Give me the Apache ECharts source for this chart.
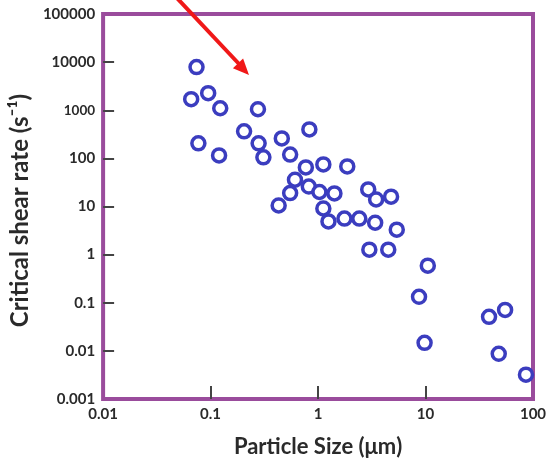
<!DOCTYPE html>
<html>
<head>
<meta charset="utf-8">
<script src="https://cdn.jsdelivr.net/npm/echarts@6/dist/echarts.min.js"></script>
<style>
  html, body { margin: 0; padding: 0; background: #ffffff; }
  #chart { width: 551px; height: 466px; }
</style>
</head>
<body>
<div id="chart"></div>
<script>
// Particle size (µm) and critical shear rate (s^-1)
const particleSize = [
  0.074, 0.066, 0.095, 0.123, 0.276, 0.205, 0.077, 0.12, 0.28, 0.31,
  0.46, 0.83, 0.55, 0.77, 1.12, 1.87, 0.61, 0.55, 0.43, 0.82,
  1.03, 1.42, 1.12, 1.25, 1.76, 2.42, 2.93, 3.47, 4.78, 3.4,
  5.4, 3.0, 4.5, 10.5, 8.7, 9.8, 39, 55, 48, 86
];
const shearRate = [
  7900, 1700, 2260, 1100, 1050, 365, 205, 115, 205, 105,
  260, 400, 120, 65, 75, 68, 36, 19, 10.5, 26,
  20, 18.7, 9.1, 4.9, 5.6, 5.6, 22.6, 14, 16, 4.6,
  3.3, 1.27, 1.27, 0.59, 0.133, 0.0147, 0.051, 0.071, 0.0087, 0.0032
];
const xTickLabels = ['0.01', '0.1', '1', '10', '100'];
const yTickLabels = ['0.001', '0.01', '0.1', '1', '10', '100', '1000', '10000', '100000'];
const xTickValues = [0.1, 1, 10];
const yTickValues = [0.01, 0.1, 1, 10, 100, 1000, 10000];

const points = particleSize.map((x, i) => [x, shearRate[i]]);

const frameColor = '#9a4c9c';
const textColor = '#2a2a2a';
const markerColor = '#3b3dbf';
const fontFam = 'Lato, "Liberation Sans", Arial, sans-serif';

const chart = echarts.init(document.getElementById('chart'), null, { renderer: 'canvas' });
chart.setOption({
  animation: false,
  backgroundColor: '#ffffff',
  grid: {
    left: 100, right: 18, top: 14, bottom: 67,
    show: true, borderColor: frameColor, borderWidth: 4, backgroundColor: '#ffffff'
  },
  xAxis: {
    type: 'log', logBase: 10, min: 0.01, max: 100,
    name: 'Particle Size (\u03bcm)', nameLocation: 'middle', nameGap: 37,
    nameTextStyle: { fontSize: 22, fontWeight: 'bold', color: textColor, fontFamily: fontFam },
    axisLine: { show: false },
    axisTick: { show: true, inside: true, length: 13, customValues: xTickValues, lineStyle: { color: '#444', width: 2 } },
    axisLabel: {
      margin: 8, fontSize: 15, fontWeight: 'bold', color: textColor, fontFamily: fontFam,
      showMinLabel: true, showMaxLabel: true,
      formatter: v => xTickLabels[Math.round(Math.log10(v)) + 2]
    },
    splitLine: { show: false }
  },
  yAxis: {
    type: 'log', logBase: 10, min: 0.001, max: 100000,
    name: 'Critical shear rate (s\u207b\u00b9)', nameLocation: 'middle', nameGap: 63,
    nameTextStyle: { fontSize: 24, fontWeight: 'bold', color: textColor, fontFamily: fontFam, padding: [0, 8, 0, 0] },
    axisLine: { show: false },
    axisTick: { show: true, inside: true, length: 11, customValues: yTickValues, lineStyle: { color: '#444', width: 2 } },
    axisLabel: {
      margin: 8, fontSize: 15, fontWeight: 'bold', color: textColor, fontFamily: fontFam,
      showMinLabel: true, showMaxLabel: true,
      formatter: v => {
        const e = Math.round(Math.log10(v));
        const s = yTickLabels[e + 3];
        return e === 3 ? '{s|' + s + '}' : s;
      },
      rich: { s: { fontSize: 13.5, fontWeight: 'bold', color: textColor, fontFamily: fontFam } }
    },
    splitLine: { show: false }
  },
  series: [{
    type: 'scatter',
    data: points,
    symbol: 'circle',
    symbolSize: 13,
    clip: false,
    itemStyle: { color: '#ffffff', opacity: 1, borderColor: markerColor, borderWidth: 3.5 }
  }],
  graphic: [
    { type: 'line', z: 100, shape: { x1: 176, y1: -3, x2: 240, y2: 65 },
      style: { stroke: '#f01818', lineWidth: 4 } },
    { type: 'polygon', z: 100, shape: { points: [[249, 75], [232.9, 68.2], [243.1, 58.6]] },
      style: { fill: '#f01818' } }
  ]
});
</script>
</body>
</html>
